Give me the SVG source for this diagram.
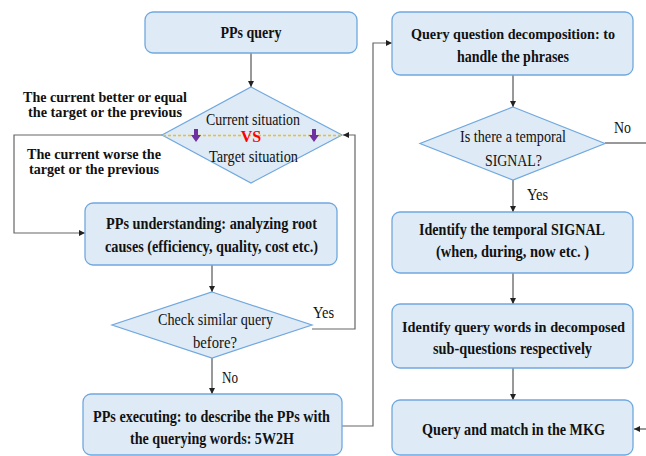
<svg xmlns="http://www.w3.org/2000/svg" width="646" height="456" viewBox="0 0 646 456">
<defs>
<style>
.box{fill:#deeaf6;stroke:#70a8de;stroke-width:1.3}
.dia{fill:#deeaf6;stroke:#70a8de;stroke-width:1.2}
.b{font-weight:bold;font-size:16.5px;fill:#111}
.t{font-weight:bold;font-size:15px;fill:#111}
.s{font-weight:bold;font-size:14.5px;fill:#111}
.r{font-size:16.5px;fill:#111}
.ln{fill:none;stroke:#333;stroke-width:1}
.lg{fill:none;stroke:#666;stroke-width:1.2}
</style>
<marker id="ah" viewBox="0 0 8 8" refX="8" refY="4" markerWidth="6" markerHeight="6" orient="auto" markerUnits="userSpaceOnUse">
<path d="M0,0 L8,4 L0,8 z" fill="#222"/>
</marker>
</defs>
<g id="connectors">
<line class="ln" x1="251" y1="53" x2="251" y2="87" marker-end="url(#ah)"/>
<polyline class="lg" points="162,135 14,135 14,233 85,233" marker-end="url(#ah)"/>
<polyline class="lg" points="312,329 355,329 355,135 343,135" marker-end="url(#ah)"/>
<line class="ln" x1="212" y1="265" x2="212" y2="292" marker-end="url(#ah)"/>
<line class="ln" x1="212" y1="358" x2="212" y2="394" marker-end="url(#ah)"/>
<polyline class="lg" points="342,426 373,426 373,43 392,43" marker-end="url(#ah)"/>
<line class="ln" x1="513" y1="75" x2="513" y2="107" marker-end="url(#ah)"/>
<line class="ln" x1="605" y1="143" x2="646" y2="143"/>
<line class="ln" x1="513" y1="180" x2="513" y2="212" marker-end="url(#ah)"/>
<line class="ln" x1="513" y1="273" x2="513" y2="304" marker-end="url(#ah)"/>
<line class="ln" x1="513" y1="368" x2="513" y2="400" marker-end="url(#ah)"/>
<line class="ln" x1="646" y1="429" x2="634" y2="429" marker-end="url(#ah)"/>
</g>
<g id="labels">
<text class="s" font-family="'Liberation Serif', serif" x="105" y="102" text-anchor="middle" textLength="164" lengthAdjust="spacingAndGlyphs">The current better or equal</text>
<text class="s" font-family="'Liberation Serif', serif" x="105" y="117" text-anchor="middle" textLength="154" lengthAdjust="spacingAndGlyphs">the target or the previous</text>
<text class="s" font-family="'Liberation Serif', serif" x="94" y="159" text-anchor="middle" textLength="134" lengthAdjust="spacingAndGlyphs">The current worse the</text>
<text class="s" font-family="'Liberation Serif', serif" x="94" y="174" text-anchor="middle" textLength="130" lengthAdjust="spacingAndGlyphs">target or the previous</text>
<text class="r" font-family="'Liberation Serif', serif" x="323.5" y="318" text-anchor="middle" textLength="21" lengthAdjust="spacingAndGlyphs">Yes</text>
<text class="r" font-family="'Liberation Serif', serif" x="230" y="383" text-anchor="middle" textLength="16" lengthAdjust="spacingAndGlyphs">No</text>
<text class="r" font-family="'Liberation Serif', serif" x="622.5" y="133" text-anchor="middle" textLength="17" lengthAdjust="spacingAndGlyphs">No</text>
<text class="r" font-family="'Liberation Serif', serif" x="537.5" y="200" text-anchor="middle" textLength="21" lengthAdjust="spacingAndGlyphs">Yes</text>
</g>
<g id="n-ppsquery">
<rect class="box" x="145" y="12" width="212" height="41" rx="8"/>
<text class="b" font-family="'Liberation Serif', serif" x="251" y="38" text-anchor="middle" textLength="61" lengthAdjust="spacingAndGlyphs">PPs query</text>
</g>
<g id="n-compare">
<polygon class="dia" points="251,87 342,135 251,183 162,135"/>
<line x1="163" y1="135.5" x2="341" y2="135.5" stroke="#f0c020" stroke-width="1.3" stroke-dasharray="3,2"/>
<path d="M194,129 h4 v6 h3 l-5,7 l-5,-7 h3 z" fill="#7030a0"/>
<path d="M312,129 h4 v6 h3 l-5,7 l-5,-7 h3 z" fill="#7030a0"/>
<text class="r" font-family="'Liberation Serif', serif" x="253" y="125" text-anchor="middle" textLength="94" lengthAdjust="spacingAndGlyphs">Current situation</text>
<text font-family="'Liberation Serif', serif" x="251" y="142" text-anchor="middle" font-weight="bold" font-size="16" fill="#ff0000">VS</text>
<text class="r" font-family="'Liberation Serif', serif" x="253.5" y="162" text-anchor="middle" textLength="89" lengthAdjust="spacingAndGlyphs">Target situation</text>
</g>
<g id="n-understanding">
<rect class="box" x="85" y="203" width="252" height="62" rx="8"/>
<text class="b" font-family="'Liberation Serif', serif" x="211.5" y="229" text-anchor="middle" textLength="211" lengthAdjust="spacingAndGlyphs">PPs understanding: analyzing root</text>
<text class="b" font-family="'Liberation Serif', serif" x="211.5" y="252" text-anchor="middle" textLength="213" lengthAdjust="spacingAndGlyphs">causes (efficiency, quality, cost etc.)</text>
</g>
<g id="n-check">
<polygon class="dia" points="212,292 312,325 212,358 112,325"/>
<text class="r" font-family="'Liberation Serif', serif" x="215.5" y="325" text-anchor="middle" textLength="115" lengthAdjust="spacingAndGlyphs">Check similar  query</text>
<text class="r" font-family="'Liberation Serif', serif" x="215" y="348" text-anchor="middle" textLength="44" lengthAdjust="spacingAndGlyphs">before?</text>
</g>
<g id="n-executing">
<rect class="box" x="83" y="394" width="259" height="61" rx="8"/>
<text class="b" font-family="'Liberation Serif', serif" x="211.5" y="422" text-anchor="middle" textLength="237" lengthAdjust="spacingAndGlyphs">PPs executing: to describe the PPs with</text>
<text class="b" font-family="'Liberation Serif', serif" x="212" y="444" text-anchor="middle" textLength="164" lengthAdjust="spacingAndGlyphs">the querying words: 5W2H</text>
</g>
<g id="n-decomp">
<rect class="box" x="392" y="12" width="241" height="63" rx="8"/>
<text class="t" font-family="'Liberation Serif', serif" x="513" y="39" text-anchor="middle" textLength="204" lengthAdjust="spacingAndGlyphs">Query question decomposition: to</text>
<text class="b" font-family="'Liberation Serif', serif" x="513" y="62" text-anchor="middle" textLength="112" lengthAdjust="spacingAndGlyphs">handle the phrases</text>
</g>
<g id="n-temporal">
<polygon class="dia" points="513,107 605,143.5 513,180 420,143.5"/>
<text class="r" font-family="'Liberation Serif', serif" x="513" y="142" text-anchor="middle" textLength="106" lengthAdjust="spacingAndGlyphs">Is there a temporal</text>
<text class="r" font-family="'Liberation Serif', serif" x="513.5" y="166" text-anchor="middle" textLength="57" lengthAdjust="spacingAndGlyphs">SIGNAL?</text>
</g>
<g id="n-signal">
<rect class="box" x="392" y="212" width="241" height="61" rx="8"/>
<text class="b" font-family="'Liberation Serif', serif" x="512" y="235" text-anchor="middle" textLength="186" lengthAdjust="spacingAndGlyphs">Identify the temporal SIGNAL</text>
<text class="b" font-family="'Liberation Serif', serif" x="512.5" y="257" text-anchor="middle" textLength="153" lengthAdjust="spacingAndGlyphs">(when, during, now  etc. )</text>
</g>
<g id="n-words">
<rect class="box" x="392" y="304" width="241" height="64" rx="8"/>
<text class="t" font-family="'Liberation Serif', serif" x="513.5" y="332" text-anchor="middle" textLength="223" lengthAdjust="spacingAndGlyphs">Identify query words in  decomposed</text>
<text class="b" font-family="'Liberation Serif', serif" x="512.5" y="354" text-anchor="middle" textLength="159" lengthAdjust="spacingAndGlyphs">sub-questions respectively</text>
</g>
<g id="n-match">
<rect class="box" x="392" y="400" width="241" height="55" rx="8"/>
<text class="b" font-family="'Liberation Serif', serif" x="513.5" y="435" text-anchor="middle" textLength="183" lengthAdjust="spacingAndGlyphs">Query and match in the MKG</text>
</g>
</svg>
